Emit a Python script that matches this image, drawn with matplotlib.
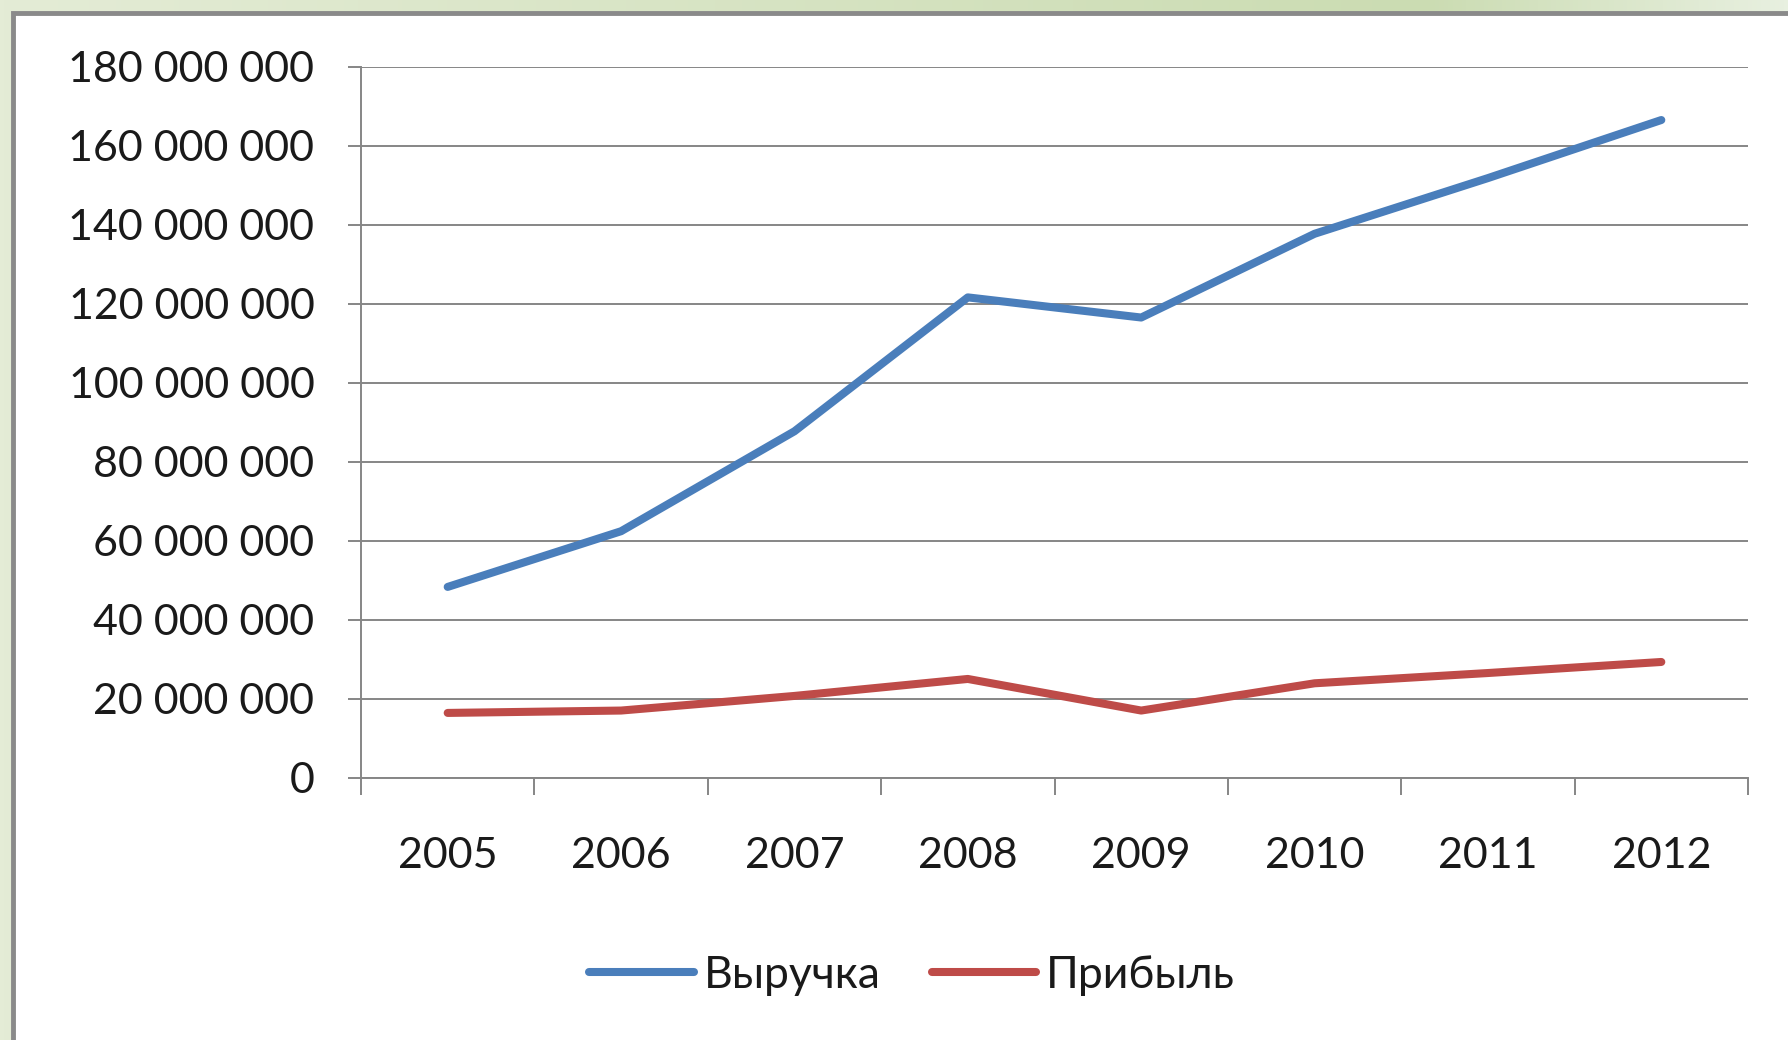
import numpy as np
import matplotlib
matplotlib.use("Agg")
import matplotlib.pyplot as plt
from matplotlib.ticker import FuncFormatter, FixedLocator, NullFormatter
from matplotlib.patches import Rectangle

years = ["2005", "2006", "2007", "2008", "2009", "2010", "2011", "2012"]
revenue = [48.3e6, 62.4e6, 87.7e6, 121.6e6, 116.5e6, 137.7e6, 151.8e6, 166.5e6]
profit = [16.4e6, 17.0e6, 20.7e6, 25.0e6, 17.0e6, 23.9e6, 26.5e6, 29.3e6]
series_names = ["Выручка", "Прибыль"]
y_ticks = [0, 20e6, 40e6, 60e6, 80e6, 100e6, 120e6, 140e6, 160e6, 180e6]

FONT = ["Lato", "Noto Sans", "DejaVu Sans"]
plt.rcParams["font.family"] = FONT

W, H = 1788, 1040
fig = plt.figure(figsize=(W / 100, H / 100), dpi=100)

# background gradient (green frame)
bg = fig.add_axes([0, 0, 1, 1], zorder=-10)
bg.set_axis_off()
grad = np.linspace(0, 1, 400)
c1 = np.array([228, 236, 214]) / 255
c2 = np.array([203, 220, 178]) / 255
c3 = np.array([232, 240, 224]) / 255
cols = []
for t in grad:
    if t < 0.8:
        cols.append(c1 + (c2 - c1) * (t / 0.8))
    else:
        cols.append(c2 + (c3 - c2) * ((t - 0.8) / 0.2))
img = np.array(cols)[None, :, :]
bg.imshow(img, aspect="auto", extent=[0, 1, 0, 1])
bg.set_xlim(0, 1)
bg.set_ylim(0, 1)
# white panel with grey border
bg.add_patch(Rectangle((12.5 / W, -0.01), 1.0, 1 - 12.5 / H + 0.01,
                       facecolor="white", edgecolor="#8a8a8a", linewidth=3.5,
                       transform=bg.transAxes))

ax = fig.add_axes([361 / W, 262.3 / H, (1748 - 361) / W, (777.7 - 66.7) / H])
ax.set_facecolor("none")
x = np.arange(len(years))
ax.plot(x, revenue, color="#4A7EBB", lw=5.8, solid_capstyle="round",
        solid_joinstyle="round", label=series_names[0], zorder=3)
ax.plot(x, profit, color="#BE4B48", lw=5.8, solid_capstyle="round",
        solid_joinstyle="round", label=series_names[1], zorder=3)

ax.set_xlim(-0.5, len(years) - 0.5)
ax.set_ylim(0, 180e6)
ax.set_yticks(y_ticks)
ax.yaxis.set_major_formatter(FuncFormatter(lambda v, p: "{:,.0f}".format(v).replace(",", " ")))
ax.grid(axis="y", color="#868686", lw=1.4, zorder=1)

ax.xaxis.set_major_locator(FixedLocator(np.arange(-0.5, len(years), 1.0)))
ax.xaxis.set_major_formatter(NullFormatter())
ax.xaxis.set_minor_locator(FixedLocator(x))
ax.set_xticklabels(years, minor=True)
ax.tick_params(axis="x", which="major", length=12, width=1.4, color="#868686", direction="out")
ax.tick_params(axis="x", which="minor", length=0, pad=43, labelsize=31, labelcolor="#1a1a1a")
ax.tick_params(axis="y", length=9.5, width=1.4, color="#868686", pad=24, labelsize=31,
               labelcolor="#1a1a1a")

for s in ["top", "right"]:
    ax.spines[s].set_visible(False)
for s in ["left", "bottom"]:
    ax.spines[s].set_color("#868686")
    ax.spines[s].set_linewidth(1.4)

leg = fig.legend(loc="center", bbox_to_anchor=(912 / W, 1 - 975 / H), ncol=2, frameon=False,
                 fontsize=32, handlelength=2.35, handletextpad=0.22, columnspacing=1.15,
                 labelcolor="#1a1a1a")

fig.savefig("out.png", dpi=100)
